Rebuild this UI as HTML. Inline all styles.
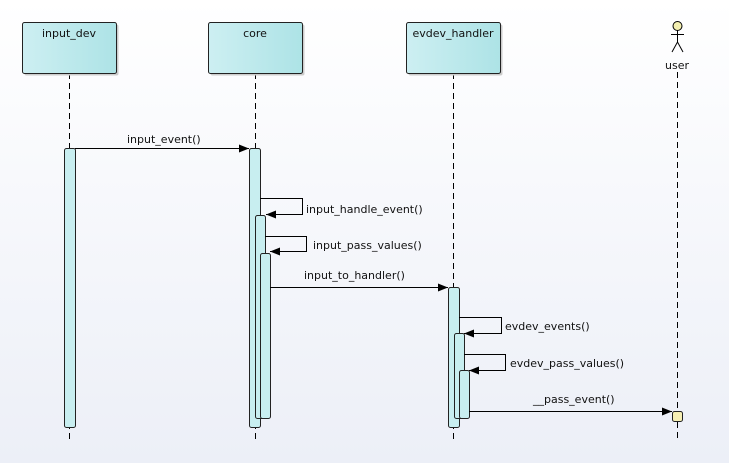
<!DOCTYPE html>
<html><head><style>
body{margin:0;width:729px;height:463px;overflow:hidden;background:linear-gradient(#ffffff,#eceff7);}
svg{display:block}
text{font-family:"DejaVu Sans","Liberation Sans",sans-serif;font-size:11px;fill:#111}
</style></head><body>
<svg width="729" height="463" viewBox="0 0 729 463">
<defs>
<linearGradient id="g" x1="0" x2="1"><stop offset="0" stop-color="#cdeff2"/><stop offset="1" stop-color="#ade3e6"/></linearGradient>
<marker id="a" markerWidth="10" markerHeight="8" refX="10" refY="4" orient="auto" markerUnits="userSpaceOnUse"><path d="M0,0L10,4L0,8z" fill="#000"/></marker>
</defs>
<g stroke="#000" stroke-dasharray="6,4" stroke-width="1">
<line x1="69.5" y1="73" x2="69.5" y2="440"/>
<line x1="255.5" y1="73" x2="255.5" y2="440"/>
<line x1="453.5" y1="73" x2="453.5" y2="440"/>
<line x1="677.5" y1="72" x2="677.5" y2="440"/>
</g>
<g fill="url(#g)" stroke="#222" stroke-width="1">
<rect x="24.5" y="24.5" width="94" height="51" rx="2" fill="#ccc" stroke="none"/>
<rect x="22.5" y="22.5" width="94" height="51" rx="2"/>
<rect x="210.5" y="24.5" width="94" height="51" rx="2" fill="#ccc" stroke="none"/>
<rect x="208.5" y="22.5" width="94" height="51" rx="2"/>
<rect x="408.5" y="24.5" width="94" height="51" rx="2" fill="#ccc" stroke="none"/>
<rect x="406.5" y="22.5" width="94" height="51" rx="2"/>
</g>
<text x="69" y="37" text-anchor="middle">input_dev</text>
<text x="255" y="37" text-anchor="middle">core</text>
<text x="453" y="37" text-anchor="middle">evdev_handler</text>
<g stroke="#000" fill="none">
<circle cx="677.5" cy="26" r="4.5" fill="#f3efb0"/>
<line x1="677.5" y1="30.5" x2="677.5" y2="42"/>
<line x1="671" y1="34.5" x2="684" y2="34.5"/>
<path d="M672,52L677.5,42L683,52"/>
</g>
<text x="677" y="69" text-anchor="middle">user</text>
<g fill="#c8eef0" stroke="#222">
<rect x="64.5" y="148.5" width="11" height="279" rx="2"/>
<rect x="249.5" y="148.5" width="11" height="279" rx="2"/>
<rect x="255.5" y="215.5" width="10" height="203" rx="2"/>
<rect x="260.5" y="253.5" width="10" height="165" rx="2"/>
<rect x="448.5" y="287.5" width="11" height="140" rx="2"/>
<rect x="454.5" y="333.5" width="10" height="85" rx="2"/>
<rect x="459.5" y="370.5" width="10" height="48" rx="2"/>
<rect x="672.5" y="411.5" width="10" height="10" rx="2" fill="#f6efb4"/>
</g>
<g stroke="#000" fill="none" marker-end="url(#a)">
<line x1="75" y1="148.5" x2="249" y2="148.5"/>
<path d="M260,198.5H302.5V214.5H266"/>
<path d="M265,236.5H306.5V251.5H270"/>
<line x1="270" y1="287.5" x2="448" y2="287.5"/>
<path d="M459,317.5H501.5V333.5H464"/>
<path d="M464,354.5H505.5V370.5H469"/>
<line x1="469" y1="411.5" x2="672" y2="411.5"/>
</g>
<text x="127" y="143">input_event()</text>
<text x="306" y="213">input_handle_event()</text>
<text x="313" y="249">input_pass_values()</text>
<text x="304" y="279">input_to_handler()</text>
<text x="505" y="330">evdev_events()</text>
<text x="510" y="367">evdev_pass_values()</text>
<text x="533" y="403">__pass_event()</text>
</svg>
</body></html>
